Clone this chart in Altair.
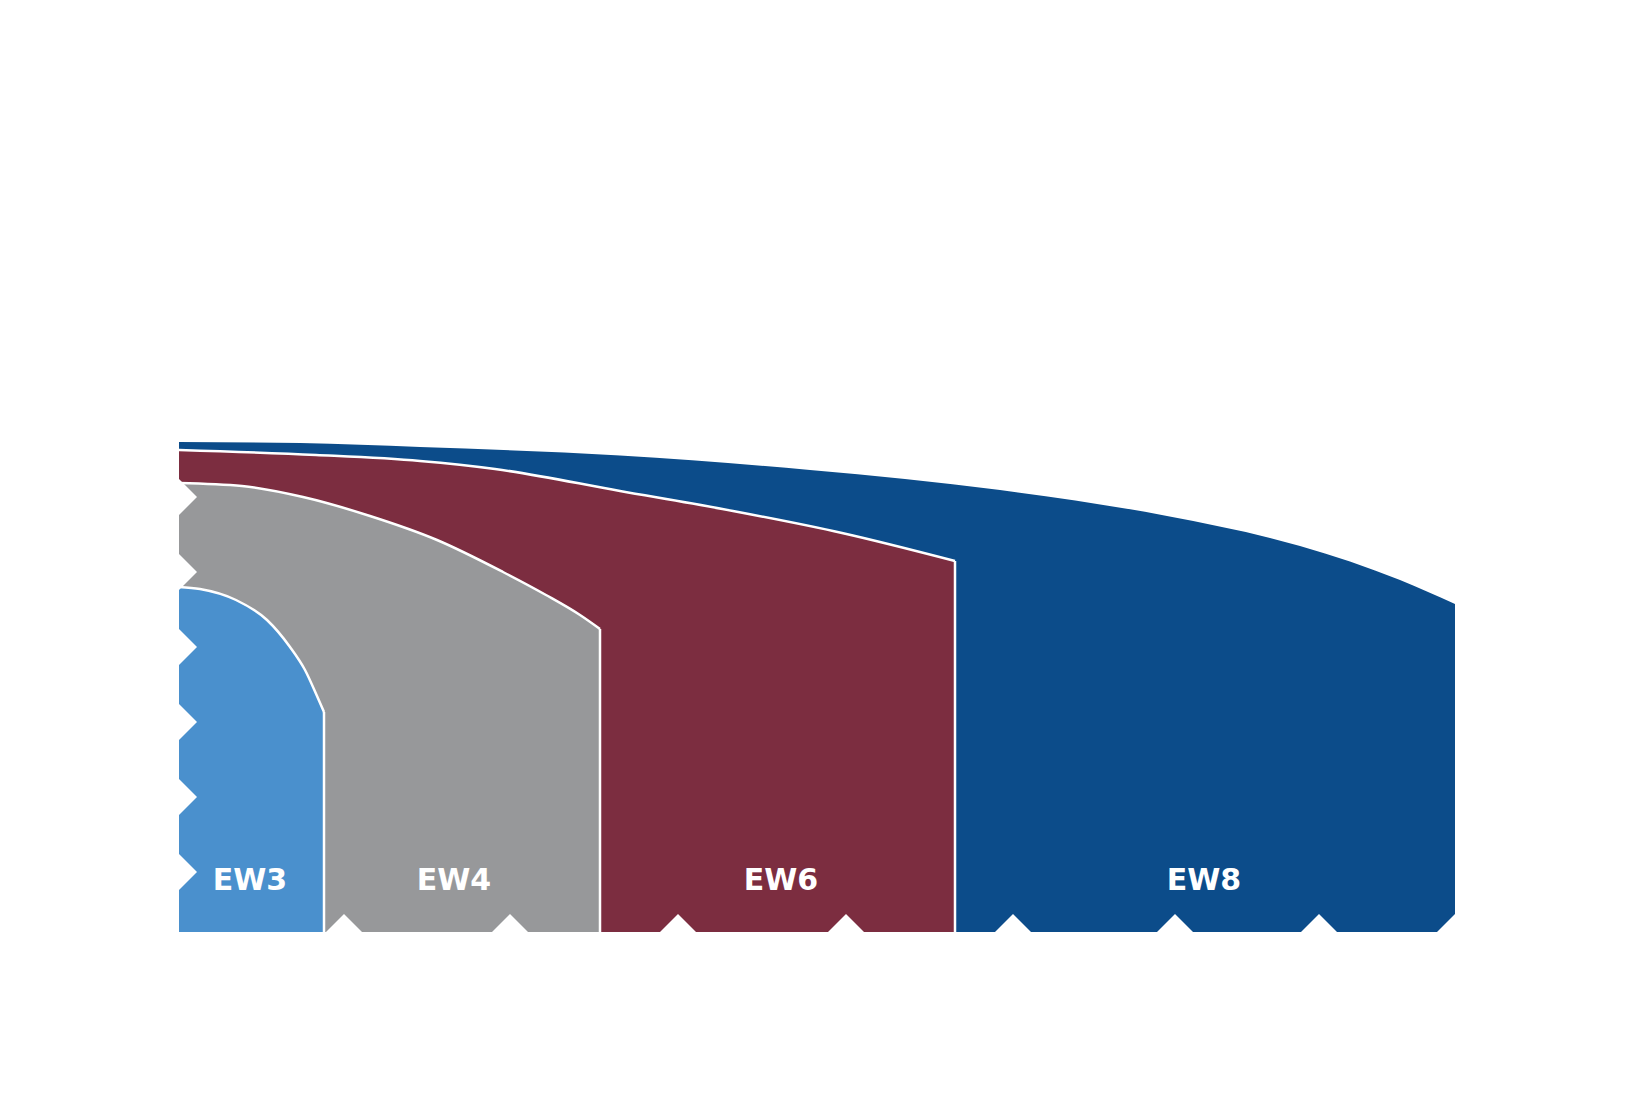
import altair as alt
import pandas as pd

# Series top boundaries (x, y) (x: 0..1276, y: 0..500 plot units)
ew8_x = [0, 121, 241, 441, 631, 821, 988, 1121, 1221, 1276]
ew8_y = [490, 489, 485, 476.5, 462, 442, 416, 386, 352, 328]

ew6_x = [0, 137, 241, 316, 441, 554, 663, 776]
ew6_y = [482, 477, 471, 463, 441, 421, 399, 371]

ew4_x = [0, 63, 124, 191, 258, 324, 367, 401, 421]
ew4_y = [449, 446, 435, 416, 392, 360, 337, 317, 303]

ew3_x = [0, 21, 57, 88, 111, 126, 138, 145]
ew3_y = [345, 343, 332, 312, 285, 262, 236, 220]

series_names = ["EW8", "EW6", "EW4", "EW3"]
series_colors = ["#0C4C8A", "#7C2D40", "#97989A", "#4A90CD"]

label_text = ["EW3", "EW4", "EW6", "EW8"]
label_x = [71, 275, 602, 1025]
label_y = [51, 51, 51, 51]

# white notch markers along the axes
left_marks_y = [435, 360, 285, 210, 135, 60]
bottom_marks_x = [165, 331, 499, 667, 834, 996, 1140, 1276]

W, H = 1276, 500
xs = alt.Scale(domain=[0, W], nice=False, zero=False)
ys = alt.Scale(domain=[0, H], nice=False, zero=False)

data_map = {
    "EW8": (ew8_x, ew8_y),
    "EW6": (ew6_x, ew6_y),
    "EW4": (ew4_x, ew4_y),
    "EW3": (ew3_x, ew3_y),
}

layers = []
edges = []
for name, color in zip(series_names, series_colors):
    xv, yv = data_map[name]
    df = pd.DataFrame({"x": xv, "y": yv})
    area = alt.Chart(df).mark_area(color=color, interpolate="monotone", opacity=1).encode(
        x=alt.X("x:Q", scale=xs, axis=None),
        y=alt.Y("y:Q", scale=ys, axis=None),
        y2=alt.datum(0),
    )
    layers.append(area)
    if name != "EW8":
        line = alt.Chart(df).mark_line(color="white", strokeWidth=2.5, interpolate="monotone").encode(
            x=alt.X("x:Q", scale=xs, axis=None),
            y=alt.Y("y:Q", scale=ys, axis=None),
        )
        layers.append(line)
        edges.append({"x": xv[-1], "ytop": yv[-1]})

edge_df = pd.DataFrame(edges)
rules = alt.Chart(edge_df).mark_rule(color="white", strokeWidth=2.5).encode(
    x=alt.X("x:Q", scale=xs, axis=None),
    y=alt.Y("ytop:Q", scale=ys, axis=None),
    y2=alt.datum(0),
)
layers.append(rules)

marks_df = pd.DataFrame(
    {"x": [0] * len(left_marks_y) + bottom_marks_x,
     "y": left_marks_y + [0] * len(bottom_marks_x)}
)
notches = alt.Chart(marks_df).mark_point(
    shape="diamond", filled=True, color="white", size=1296, opacity=1, strokeWidth=0
).encode(
    x=alt.X("x:Q", scale=xs, axis=None),
    y=alt.Y("y:Q", scale=ys, axis=None),
)
layers.append(notches)

lab_df = pd.DataFrame({"t": label_text, "x": label_x, "y": label_y})
labels = alt.Chart(lab_df).mark_text(
    color="white", font="DejaVu Sans", fontWeight="bold", fontSize=30,
    align="center", baseline="middle"
).encode(
    x=alt.X("x:Q", scale=xs, axis=None),
    y=alt.Y("y:Q", scale=ys, axis=None),
    text="t:N",
)
layers.append(labels)

chart = alt.layer(*layers).properties(
    width=W, height=H,
    autosize=alt.AutoSizeParams(type="none"),
    padding={"left": 171, "top": 424, "right": 187, "bottom": 160},
    background="white",
).configure_view(stroke=None)

chart.save("out.html", embed_options={"renderer": "svg", "actions": False})
